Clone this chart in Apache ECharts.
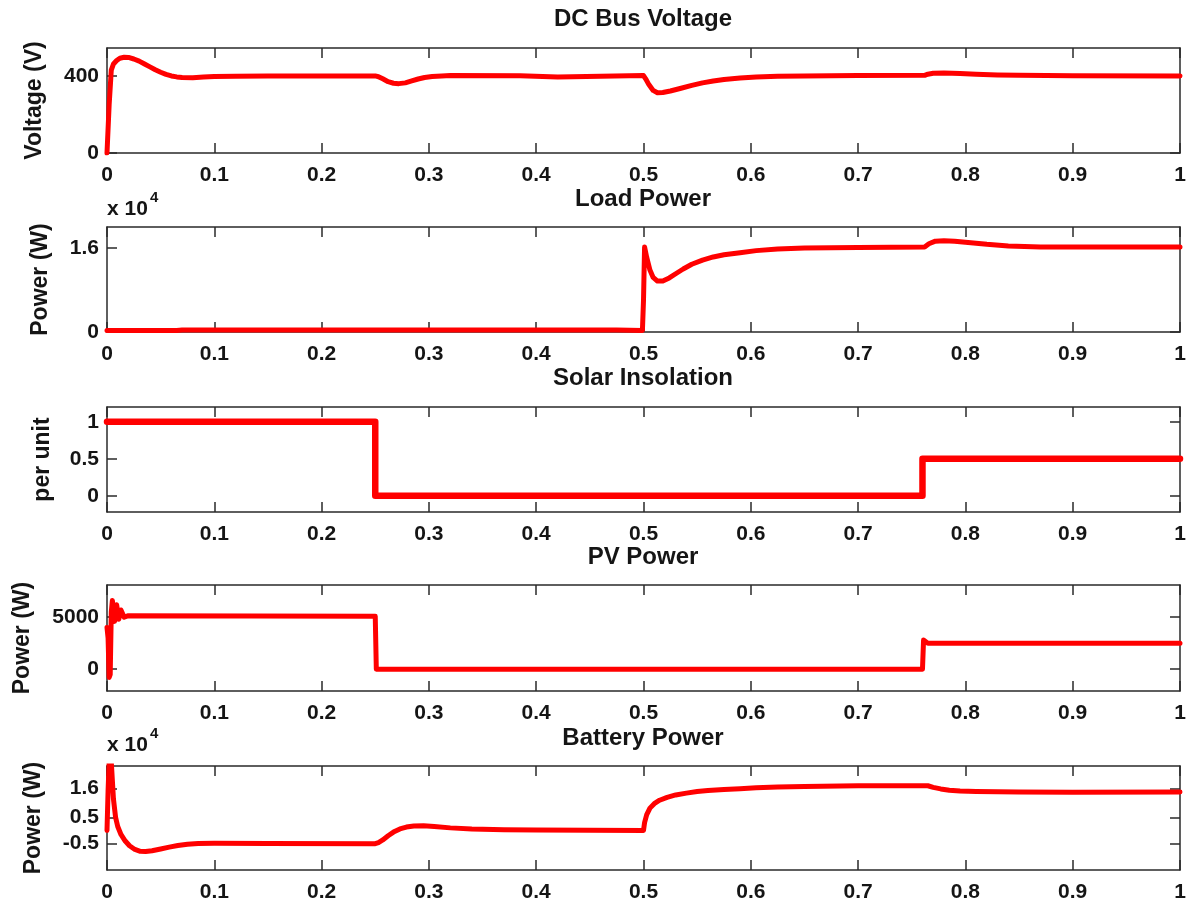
<!DOCTYPE html>
<html>
<head>
<meta charset="utf-8">
<script src="https://cdn.jsdelivr.net/npm/echarts@6/dist/echarts.min.js"></script>
<style>
  html, body { margin: 0; padding: 0; background: #fff; }
  #chart { width: 1194px; height: 906px; }
</style>
</head>
<body>
<div id="chart"></div>
<script>
// ---- DC bus voltage (V) ----
const busT = [0, 0.002, 0.004, 0.006, 0.009, 0.012, 0.016, 0.02, 0.025, 0.03, 0.035, 0.04, 0.045, 0.05,
  0.055, 0.06, 0.065, 0.07, 0.08, 0.09, 0.10, 0.12, 0.15, 0.25,
  0.253, 0.257, 0.262, 0.267, 0.272, 0.278, 0.284, 0.29, 0.296, 0.303, 0.312, 0.32,
  0.385, 0.386, 0.42, 0.421, 0.50,
  0.502, 0.505, 0.509, 0.513, 0.518, 0.525, 0.535, 0.545, 0.555, 0.565, 0.575, 0.59, 0.605, 0.625,
  0.65, 0.70, 0.762, 0.765, 0.77, 0.78, 0.795, 0.81, 0.83, 0.85, 0.9, 1.0];
const busV = [0, 250, 430, 462, 480, 492, 497, 496, 488, 477, 462, 447, 432, 419,
  408, 400, 395, 392, 391, 394, 397, 399, 400, 400,
  396, 385, 370, 362, 360, 364, 374, 384, 392, 397, 400, 402,
  401, 395, 395, 401, 402,
  385, 355, 325, 313, 314, 322, 336, 351, 364, 374, 382, 389, 394, 398,
  400, 402, 403, 409, 414, 415, 413, 409, 405, 403, 401, 400];

// ---- Load power (x 10^4 W) ----
const loadT = [0, 0.065, 0.07, 0.475, 0.499, 0.5, 0.501, 0.503, 0.506, 0.509, 0.513, 0.518, 0.524, 0.53,
  0.537, 0.545, 0.555, 0.565, 0.575, 0.59, 0.605, 0.625, 0.65, 0.70, 0.762,
  0.766, 0.772, 0.78, 0.79, 0.805, 0.82, 0.84, 0.87, 1.0];
const loadP = [0.03, 0.03, 0.04, 0.04, 0.03, 0.6, 1.62, 1.42, 1.18, 1.04, 0.97, 0.97, 1.03, 1.11,
  1.2, 1.29, 1.37, 1.43, 1.47, 1.51, 1.55, 1.58, 1.6, 1.61, 1.62,
  1.68, 1.73, 1.74, 1.73, 1.7, 1.67, 1.64, 1.62, 1.62];

// ---- Solar insolation (per unit) ----
const solarT = [0, 0.25, 0.25, 0.76, 0.76, 1.0];
const solarG = [1, 1, 0, 0, 0.5, 0.5];

// ---- PV power (W) ----
const pvT = [0, 0.001, 0.002, 0.003, 0.004, 0.005, 0.007, 0.009, 0.011, 0.013, 0.016, 0.02, 0.25,
  0.251, 0.735, 0.76, 0.761, 0.765, 1.0];
const pvP = [4000, 3000, -800, -500, 5500, 6600, 4600, 6200, 4800, 5700, 5000, 5150, 5100,
  0, 0, 0, 2800, 2500, 2500];

// ---- Battery power (x 10^4 W) ----
const batT = [0, 0.001, 0.002, 0.004, 0.006, 0.008, 0.01, 0.013, 0.017, 0.021, 0.026, 0.031, 0.036,
  0.042, 0.05, 0.058, 0.066, 0.075, 0.085, 0.10, 0.15, 0.25,
  0.253, 0.257, 0.262, 0.267, 0.273, 0.279, 0.286, 0.295, 0.305, 0.32, 0.34, 0.37, 0.40, 0.50,
  0.501, 0.503, 0.506, 0.51, 0.515, 0.522, 0.53, 0.54, 0.55, 0.56, 0.575, 0.59, 0.605, 0.625,
  0.65, 0.70, 0.765, 0.77, 0.777, 0.785, 0.795, 0.81, 0.85, 0.90, 1.0];
const batP = [0.0, 1.5, 2.6, 2.6, 1.2, 0.5, 0.15, -0.15, -0.4, -0.58, -0.72, -0.79, -0.8,
  -0.77, -0.7, -0.63, -0.57, -0.52, -0.49, -0.48, -0.49, -0.5,
  -0.46, -0.36, -0.2, -0.06, 0.06, 0.13, 0.17, 0.18, 0.15, 0.1, 0.06, 0.03, 0.02, 0.0,
  0.3, 0.6, 0.85, 1.02, 1.15, 1.26, 1.35, 1.42, 1.48, 1.52, 1.56, 1.59, 1.62, 1.65,
  1.67, 1.7, 1.7, 1.64, 1.58, 1.53, 1.5, 1.48, 1.46, 1.45, 1.46];

// ---- panel text ----
const titles = ['DC Bus Voltage', 'Load Power', 'Solar Insolation', 'PV Power', 'Battery Power'];
const yNames = ['Voltage (V)', 'Power (W)', 'per unit', 'Power (W)', 'Power (W)'];
const yTicks = [[0, 400], [0, 1.6], [0, 0.5, 1], [0, 5000], [-0.5, 0.5, 1.6]];
const yRanges = [[0, 545], [0, 2.0], [-0.22, 1.2], [-2100, 8100], [-1.5, 2.45]];

// ---- layout ----
const FONT = '"Liberation Sans", Arial, sans-serif';
const INK = '#151515';
const AX = '#2a2a2a';
const grids = [
  { top: 48, height: 105 },
  { top: 227, height: 105 },
  { top: 407, height: 105 },
  { top: 585, height: 106 },
  { top: 766, height: 104 }
];
const nameGaps = [61, 55, 53, 73, 62];
const lineWidths = [5, 5, 6.5, 5, 5];

function zip(t, v) { return t.map((x, i) => [x, v[i]]); }
const seriesData = [zip(busT, busV), zip(loadT, loadP), zip(solarT, solarG), zip(pvT, pvP), zip(batT, batP)];

const option = {
  backgroundColor: '#ffffff',
  animation: false,
  grid: [], xAxis: [], yAxis: [], series: [], graphic: []
};

const axisLine = { show: true, onZero: false, lineStyle: { color: AX, width: 1.5 } };
const tick = { show: true, inside: true, length: 10, lineStyle: { color: AX, width: 1.5 } };
const plainNumber = v => String(Math.round(v * 1000) / 1000);

grids.forEach((g, i) => {
  option.grid.push({ left: 107, right: 14, top: g.top, height: g.height, containLabel: false });
  // bottom x axis with labels
  option.xAxis.push({
    type: 'value', gridIndex: i, min: 0, max: 1, interval: 0.1, position: 'bottom',
    axisLine, axisTick: tick, splitLine: { show: false },
    axisLabel: { margin: 12, color: INK, fontFamily: FONT, fontWeight: 'bold', fontSize: 21, formatter: plainNumber }
  });
  // top x axis: frame with mirrored ticks
  option.xAxis.push({
    type: 'value', gridIndex: i, min: 0, max: 1, interval: 0.1, position: 'top',
    axisLine, axisTick: tick, splitLine: { show: false }, axisLabel: { show: false }
  });
  // left y axis
  option.yAxis.push({
    type: 'value', gridIndex: i, min: yRanges[i][0], max: yRanges[i][1], position: 'left',
    name: yNames[i], nameLocation: 'middle', nameRotate: 90, nameGap: nameGaps[i],
    nameTextStyle: { color: INK, fontFamily: FONT, fontWeight: 'bold', fontSize: 23 },
    axisLine, splitLine: { show: false },
    axisTick: Object.assign({}, tick, { customValues: yTicks[i] }),
    axisLabel: { margin: 8, color: INK, fontFamily: FONT, fontWeight: 'bold', fontSize: 21,
      customValues: yTicks[i], formatter: plainNumber }
  });
  // right y axis: frame with mirrored ticks
  option.yAxis.push({
    type: 'value', gridIndex: i, min: yRanges[i][0], max: yRanges[i][1], position: 'right',
    axisLine, splitLine: { show: false },
    axisTick: Object.assign({}, tick, { customValues: yTicks[i] }),
    axisLabel: { show: false }
  });
  option.series.push({
    type: 'line', xAxisIndex: i * 2, yAxisIndex: i * 2, data: seriesData[i],
    showSymbol: false, symbol: 'none', clip: true, smooth: false,
    lineStyle: { color: '#ff0000', width: lineWidths[i], join: 'round', cap: 'round' }
  });
});

// panel titles
const titleY = [19, 199, 378, 557, 738];
titles.forEach((t, i) => {
  option.graphic.push({
    type: 'text', x: 643, y: titleY[i], silent: true,
    style: { text: t, fill: INK, font: 'bold 24px ' + FONT, textAlign: 'center', textVerticalAlign: 'middle' }
  });
});

// "x 10^4" multipliers for the scaled power axes
[209, 745].forEach(y => {
  option.graphic.push({
    type: 'text', x: 107, y: y, silent: true,
    style: { text: 'x 10', fill: INK, font: 'bold 21px ' + FONT, textAlign: 'left', textVerticalAlign: 'middle' }
  });
  option.graphic.push({
    type: 'text', x: 150, y: y - 11, silent: true,
    style: { text: '4', fill: INK, font: 'bold 15px ' + FONT, textAlign: 'left', textVerticalAlign: 'middle' }
  });
});

const chart = echarts.init(document.getElementById('chart'), null, { renderer: 'canvas' });
chart.setOption(option);
</script>
</body>
</html>
